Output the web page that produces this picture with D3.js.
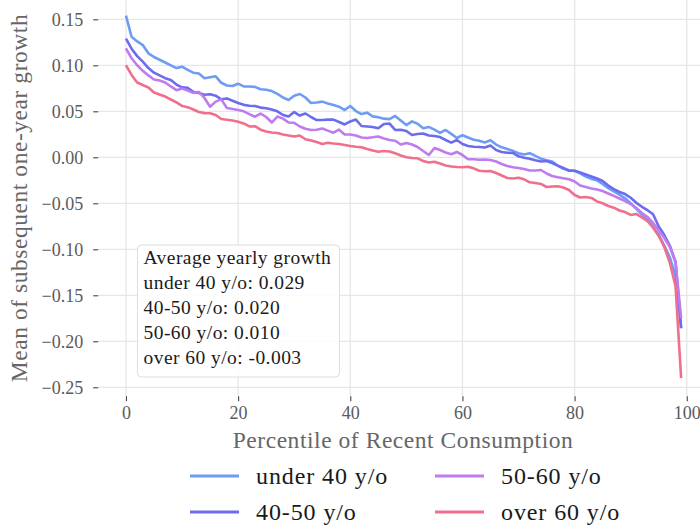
<!DOCTYPE html>
<html>
<head>
<meta charset="utf-8">
<script src="https://cdn.jsdelivr.net/npm/d3@7"></script>
<style>
  body { margin: 0; background: #fff; }
  svg { display: block; }
  text { font-family: "Liberation Serif", "DejaVu Serif", serif; }
</style>
</head>
<body>
<svg id="chart" width="700" height="526"></svg>
<script>
// Percentile buckets of recent consumption (0..99)
const percentiles = d3.range(100);

// Mean subsequent one-year consumption growth per percentile, by age group
const under40 = [
  0.154, 0.131, 0.126, 0.122, 0.113, 0.109, 0.106, 0.103, 0.100, 0.097,
  0.0985, 0.095, 0.092, 0.091, 0.086, 0.087, 0.088, 0.081, 0.078, 0.0775,
  0.080, 0.077, 0.077, 0.0765, 0.074, 0.0735, 0.072, 0.069, 0.065, 0.0623,
  0.067, 0.0688, 0.065, 0.059, 0.0596, 0.0605, 0.0585, 0.0568, 0.055, 0.0514,
  0.0558, 0.0503, 0.047, 0.0485, 0.0445, 0.0435, 0.042, 0.0415, 0.045, 0.040,
  0.035, 0.039, 0.0365, 0.0316, 0.033, 0.030, 0.0265, 0.0297, 0.0255, 0.021,
  0.024, 0.0215, 0.019, 0.018, 0.0162, 0.0186, 0.0138, 0.0108, 0.009, 0.007,
  0.0045, 0.003, 0.0045, 0.0015, -0.0015, -0.0033, -0.0045, -0.009, -0.0125, -0.014,
  -0.0146, -0.0175, -0.021, -0.0235, -0.025, -0.029, -0.0335, -0.037, -0.0405, -0.0446,
  -0.050, -0.056, -0.062, -0.068, -0.0755, -0.084, -0.096, -0.109, -0.129, -0.186
];
const age40to50 = [
  0.129, 0.118, 0.110, 0.104, 0.097, 0.092, 0.089, 0.086, 0.084, 0.079,
  0.076, 0.0755, 0.0713, 0.070, 0.068, 0.0685, 0.067, 0.063, 0.064, 0.0615,
  0.059, 0.057, 0.056, 0.0558, 0.054, 0.0533, 0.052, 0.050, 0.046, 0.0443,
  0.0492, 0.0454, 0.0476, 0.0438, 0.0405, 0.0405, 0.0409, 0.041, 0.0384, 0.0357,
  0.039, 0.041, 0.034, 0.0335, 0.033, 0.0316, 0.0362, 0.0367, 0.0297, 0.030,
  0.0286, 0.0242, 0.0253, 0.0259, 0.0237, 0.0232, 0.022, 0.0188, 0.016, 0.0188,
  0.0145, 0.0123, 0.0115, 0.0112, 0.0107, 0.0128, 0.008, 0.0058, 0.005, 0.0047,
  0.0011, -0.0004, -0.0016, -0.0033, -0.0046, -0.004, -0.0062, -0.0091, -0.0116, -0.0146,
  -0.0146, -0.0165, -0.0187, -0.0209, -0.023, -0.0258, -0.0307, -0.0345, -0.0377, -0.040,
  -0.044, -0.0495, -0.0538, -0.0575, -0.062, -0.0752, -0.0845, -0.0964, -0.1138, -0.1855
];
const age50to60 = [
  0.1185, 0.1076, 0.100, 0.094, 0.089, 0.0846, 0.0835, 0.0813, 0.077, 0.073,
  0.0748, 0.0726, 0.070, 0.071, 0.0645, 0.055, 0.0605, 0.063, 0.0536, 0.0525,
  0.0514, 0.050, 0.047, 0.0441, 0.0476, 0.0438, 0.0378, 0.0443, 0.042, 0.0378,
  0.0375, 0.0335, 0.031, 0.0297, 0.030, 0.0313, 0.029, 0.0267, 0.030, 0.0248,
  0.0248, 0.0237, 0.0215, 0.021, 0.0217, 0.0226, 0.0204, 0.0188, 0.018, 0.0139,
  0.0155, 0.0139, 0.0112, 0.0068, 0.0025, 0.010, 0.0079, 0.0052, 0.0033, 0.0058,
  0.0025, -0.0022, -0.0022, -0.0027, -0.0024, -0.0029, -0.0046, -0.0073, -0.0095, -0.0109,
  -0.0116, -0.0127, -0.0143, -0.0143, -0.0138, -0.0176, -0.0203, -0.0217, -0.0227, -0.0239,
  -0.0263, -0.0307, -0.0323, -0.0339, -0.035, -0.0366, -0.0393, -0.042, -0.0448, -0.0475,
  -0.0508, -0.0551, -0.0605, -0.0649, -0.0714, -0.079, -0.0877, -0.0975, -0.1138, -0.1747
];
const over60 = [
  0.1003, 0.0895, 0.0813, 0.0786, 0.0759, 0.0704, 0.0683, 0.066, 0.0628, 0.0596,
  0.0558, 0.0545, 0.052, 0.0492, 0.048, 0.0478, 0.046, 0.0416, 0.0409, 0.040,
  0.0387, 0.0368, 0.0335, 0.0338, 0.030, 0.028, 0.027, 0.0264, 0.0248, 0.0237,
  0.0226, 0.0237, 0.0196, 0.0183, 0.0166, 0.0145, 0.0158, 0.015, 0.0145, 0.0134,
  0.0123, 0.0115, 0.0109, 0.009, 0.0074, 0.0061, 0.0068, 0.0063, 0.0043, 0.002,
  0.000, -0.0008, -0.0011, -0.004, -0.0057, -0.0049, -0.0067, -0.0089, -0.010, -0.0105,
  -0.0108, -0.0103, -0.012, -0.0146, -0.0151, -0.0149, -0.0171, -0.0198, -0.0225, -0.023,
  -0.0223, -0.0239, -0.0272, -0.0279, -0.029, -0.0323, -0.0317, -0.0314, -0.0328, -0.0355,
  -0.041, -0.0437, -0.0432, -0.0442, -0.048, -0.050, -0.0529, -0.0548, -0.0578, -0.0595,
  -0.0627, -0.0616, -0.0654, -0.0695, -0.0765, -0.0855, -0.0975, -0.115, -0.140, -0.240
];

const seriesNames = ["under 40 y/o", "40-50 y/o", "50-60 y/o", "over 60 y/o"];
const seriesValues = [under40, age40to50, age50to60, over60];
const seriesColors = ["#6e9cf4", "#6c6cef", "#bf7bf0", "#f06f8c"];
const averageGrowth = ["0.029", "0.020", "0.010", "-0.003"];

const xTicks = [0, 20, 40, 60, 80, 100];
const yTicks = [0.15, 0.10, 0.05, 0.00, -0.05, -0.10, -0.15, -0.20, -0.25];

const svg = d3.select("#chart");
const W = 700, H = 526;
const plot = { left: 98.2, right: 708.9, top: -2.5, bottom: 396.2 };

const x = d3.scaleLinear().domain([-4.95, 103.95]).range([plot.left, plot.right]);
const y = d3.scaleLinear().domain([-0.2597, 0.1737]).range([plot.bottom, plot.top]);

svg.append("defs").append("clipPath").attr("id", "plotClip")
  .append("rect")
  .attr("x", plot.left).attr("y", plot.top)
  .attr("width", plot.right - plot.left).attr("height", plot.bottom - plot.top);

// Grid
const grid = svg.append("g").attr("clip-path", "url(#plotClip)");
grid.selectAll("line.h").data(yTicks).join("line")
  .attr("x1", plot.left).attr("x2", plot.right)
  .attr("y1", d => y(d)).attr("y2", d => y(d))
  .attr("stroke", "#e6e6e6").attr("stroke-width", 1.3);
grid.selectAll("line.v").data(xTicks).join("line")
  .attr("y1", plot.top).attr("y2", plot.bottom)
  .attr("x1", d => x(d)).attr("x2", d => x(d))
  .attr("stroke", "#e6e6e6").attr("stroke-width", 1.3);

// Axes
const fmt = d3.format(".2f");
const yAxis = svg.append("g")
  .attr("transform", `translate(${plot.left},0)`)
  .call(d3.axisLeft(y).tickValues(yTicks).tickFormat(fmt).tickSize(5).tickPadding(10));
const xAxis = svg.append("g")
  .attr("transform", `translate(0,${plot.bottom})`)
  .call(d3.axisBottom(x).tickValues(xTicks).tickSize(5).tickPadding(5));
[yAxis, xAxis].forEach(a => {
  a.select(".domain").remove();
  a.selectAll(".tick line").attr("stroke", "#444").attr("stroke-width", 1.1);
  a.selectAll(".tick text")
    .attr("fill", "#5a5a5a")
    .style("font-family", '"Liberation Serif", serif')
    .style("font-size", "18px");
});

// Axis titles
svg.append("text")
  .attr("x", 403).attr("y", 448)
  .attr("text-anchor", "middle")
  .attr("fill", "#666")
  .style("font-size", "23.5px").style("letter-spacing", "0.55px")
  .text("Percentile of Recent Consumption");
svg.append("text")
  .attr("transform", "translate(27,198) rotate(-90)")
  .attr("text-anchor", "middle")
  .attr("fill", "#666")
  .style("font-size", "23.5px").style("letter-spacing", "0.55px")
  .text("Mean of subsequent one-year growth");

// Series lines
const line = d3.line().x((d, i) => x(percentiles[i])).y(d => y(d));
svg.append("g").attr("clip-path", "url(#plotClip)")
  .selectAll("path").data(seriesValues).join("path")
  .attr("d", d => line(d))
  .attr("fill", "none")
  .attr("stroke", (d, i) => seriesColors[i])
  .attr("stroke-width", 2.6)
  .attr("stroke-linejoin", "round");

// Average growth box
const box = svg.append("g");
box.append("rect")
  .attr("x", 137.5).attr("y", 245).attr("width", 202).attr("height", 132)
  .attr("rx", 4)
  .attr("fill", "#fff").attr("fill-opacity", 0.85)
  .attr("stroke", "#dddddd").attr("stroke-width", 1);
const boxLines = ["Average yearly growth"].concat(
  seriesNames.map((n, i) => `${n}: ${averageGrowth[i]}`));
box.selectAll("text").data(boxLines).join("text")
  .attr("x", 143.5).attr("y", (d, i) => 264 + i * 25)
  .attr("fill", "#1a1a1a")
  .style("font-size", "19.5px").style("letter-spacing", "0.45px")
  .text(d => d);

// Legend below the plot
const legendPos = [[190, 476], [190, 512], [435, 476], [435, 512]];
const legend = svg.append("g");
seriesNames.forEach((n, i) => {
  const [lx, ly] = legendPos[i];
  legend.append("line")
    .attr("x1", lx).attr("x2", lx + 49).attr("y1", ly).attr("y2", ly)
    .attr("stroke", seriesColors[i]).attr("stroke-width", 3);
  legend.append("text")
    .attr("x", lx + 66).attr("y", ly + 7.5)
    .attr("fill", "#1a1a1a")
    .style("font-size", "24px").style("letter-spacing", "0.9px")
    .text(n);
});
</script>
</body>
</html>
